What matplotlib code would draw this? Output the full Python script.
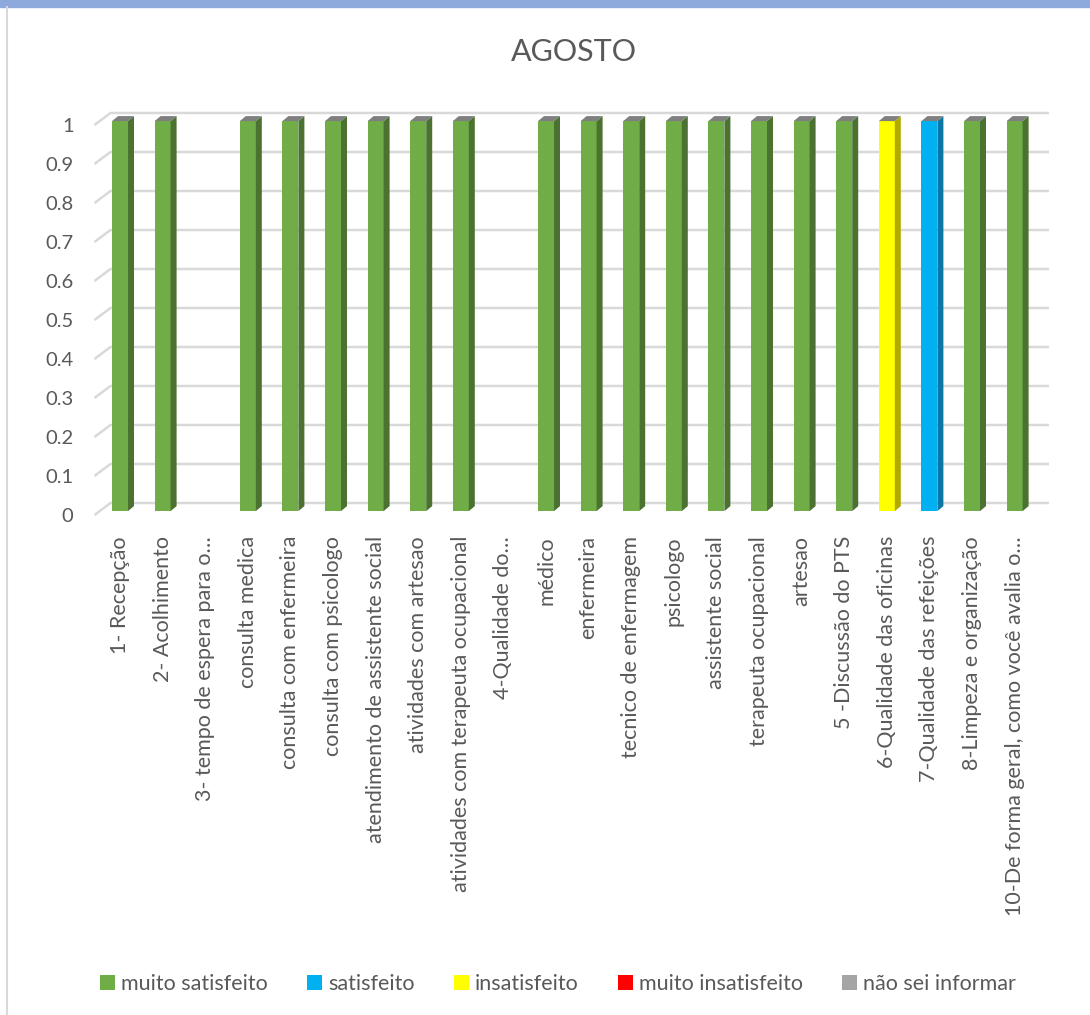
import matplotlib
matplotlib.use("Agg")
import matplotlib.pyplot as plt
from matplotlib.patches import Polygon, Rectangle
from matplotlib.lines import Line2D
import numpy as np

plt.rcParams['font.family'] = ['Lato', 'DejaVu Sans']

# Dados do gráfico
categorias = [
    "1- Recepção", "2- Acolhimento", "3- tempo de espera para o…",
    "consulta medica", "consulta com enfermeira", "consulta com psicologo",
    "atendimento de assistente social", "atividades com artesao",
    "atividades com terapeuta ocupacional", "4-Qualidade do…", "médico",
    "enfermeira", "tecnico de enfermagem", "psicologo", "assistente social",
    "terapeuta ocupacional", "artesao", "5 -Discussão do PTS",
    "6-Qualidade das oficinas", "7-Qualidade das refeições",
    "8-Limpeza e organização", "10-De forma geral, como você avalia o…",
]
series_nomes = ["muito satisfeito", "satisfeito", "insatisfeito",
                "muito insatisfeito", "não sei informar"]
muito_satisfeito = [1, 1, 0, 1, 1, 1, 1, 1, 1, 0, 1, 1, 1, 1, 1, 1, 1, 1, 0, 0, 1, 1]
satisfeito = [0, 0, 0, 0, 0, 0, 0, 0, 0, 0, 0, 0, 0, 0, 0, 0, 0, 0, 0, 1, 0, 0]
insatisfeito = [0, 0, 0, 0, 0, 0, 0, 0, 0, 0, 0, 0, 0, 0, 0, 0, 0, 0, 1, 0, 0, 0]
muito_insatisfeito = [0] * 22
nao_sei = [0] * 22
y_ticks = [0, 0.1, 0.2, 0.3, 0.4, 0.5, 0.6, 0.7, 0.8, 0.9, 1]

cores = ["#70AD47", "#00B0F0", "#FFFF00", "#FF0000", "#A5A5A5"]
cores_lado = ["#4B7230", "#0A78A3", "#B3AA00", "#B00000", "#707070"]
cor_topo = "#7F7F7F"
cor_texto = "#595959"
cor_grade = "#D9D9D9"

W, H = 1090, 1015
fig = plt.figure(figsize=(W / 100, H / 100), dpi=100)
fig.patch.set_facecolor("white")

# moldura
fig.patches.append(Rectangle((0, 1 - 7 / H), 1, 7 / H, transform=fig.transFigure,
                             color="#8EA9DB", zorder=0))
fig.lines.append(Line2D([7 / W, 7 / W], [0, 1 - 7 / H], transform=fig.transFigure,
                        color="#D9D9D9", lw=1.5))

# eixo: categoria i no px 120 + 42.6*i ; valor v no px 515 - 390*v
px_cat, px_val = 42.6, 390.0
xmin, xmax = -0.6, 21.9
ymin, ymax = -0.1, 1.1
left_px = 120 + xmin * px_cat
right_px = 120 + xmax * px_cat
bot_px = 515 - ymin * px_val
top_px = 515 - ymax * px_val
ax = fig.add_axes([left_px / W, 1 - bot_px / H, (right_px - left_px) / W,
                   (bot_px - top_px) / H])
ax.set_xlim(xmin, xmax)
ax.set_ylim(ymin, ymax)
ax.set_autoscale_on(False)
for s in ax.spines.values():
    s.set_visible(False)

# grade com profundidade (parede de fundo)
dx, dy = 16 / px_cat, 12 / px_val
x_fim = (1049 - 120) / px_cat
for v in y_ticks:
    ax.plot([xmin, xmin + dx, x_fim], [v, v + dy, v + dy], color=cor_grade,
            lw=1.8, zorder=1, solid_capstyle="butt")

ax.set_yticks(y_ticks)
ax.set_yticklabels([f"{v:g}" for v in y_ticks], fontsize=14.5, color=cor_texto)
ax.tick_params(axis="y", length=0, pad=15)
ax.set_xticks([])

# barras empilhadas com faces laterais
x = np.arange(len(categorias))
largura = 16 / px_cat
sdx, sdy = 6 / px_cat, 5 / px_val
off = 0.01
dados = [muito_satisfeito, satisfeito, insatisfeito, muito_insatisfeito, nao_sei]
base = np.zeros(len(categorias)) + off
for vals, cor, cor_l, nome in zip(dados, cores, cores_lado, series_nomes):
    vals = np.array(vals, dtype=float)
    ax.bar(x, vals, width=largura, bottom=base, color=cor, label=nome, zorder=3,
           linewidth=0)
    for xi, b, h in zip(x, base, vals):
        if h <= 0:
            continue
        xr = xi + largura / 2
        ax.add_patch(Polygon([(xr, b), (xr, b + h), (xr + sdx, b + h + sdy),
                              (xr + sdx, b + sdy)], closed=True, color=cor_l,
                             lw=0, zorder=3))
    base = base + vals
# tampa superior
for xi, t, tot in zip(x, base, np.sum(dados, axis=0)):
    if tot <= 0:
        continue
    xl, xr = xi - largura / 2, xi + largura / 2
    ax.add_patch(Polygon([(xl, t), (xr, t), (xr + sdx, t + sdy), (xl + sdx, t + sdy)],
                         closed=True, color=cor_topo, lw=0, zorder=3))

# rótulos das categorias
for xi, nome in zip(x, categorias):
    ax.text(xi, (515 - 536) / px_val, nome, rotation=90, ha="center", va="top",
            fontsize=15.5, color=cor_texto, clip_on=False)

fig.text(574 / W, 1 - 52 / H, "AGOSTO", ha="center", va="center", fontsize=22,
         color=cor_texto)

handles, labels = ax.get_legend_handles_labels()
fig.legend(handles, labels, loc="center", bbox_to_anchor=(558 / W, 1 - 984 / H),
           ncol=5, frameon=False, fontsize=15.5, handlelength=0.7, handleheight=0.7,
           handletextpad=0.3, columnspacing=1.8, labelcolor=cor_texto)

fig.savefig("out.png", dpi=100)
